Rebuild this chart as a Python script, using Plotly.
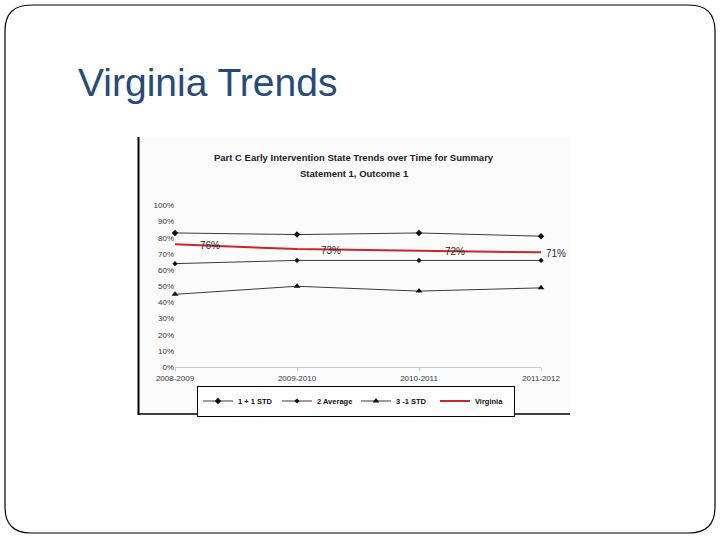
import plotly.graph_objects as go

categories = ["2008-2009", "2009-2010", "2010-2011", "2011-2012"]
plus_std = [0.83, 0.82, 0.83, 0.81]
average = [0.64, 0.66, 0.66, 0.66]
minus_std = [0.45, 0.50, 0.47, 0.49]
virginia = [0.76, 0.73, 0.72, 0.71]
series_names = ["1 + 1 STD", "2 Average", "3 -1 STD", "Virginia"]
label_shift = [35, 34, 36, 15]

W, H = 720, 540
def px(x):
    return x / W
def py(y):
    return 1 - y / H

fig = go.Figure()

fig.add_trace(go.Scatter(x=categories, y=plus_std, name=series_names[0], mode="lines+markers",
                         line=dict(color="#3a3a3a", width=1),
                         marker=dict(symbol="diamond", size=5, color="#111111"), cliponaxis=False))
fig.add_trace(go.Scatter(x=categories, y=average, name=series_names[1], mode="lines+markers",
                         line=dict(color="#3a3a3a", width=1),
                         marker=dict(symbol="diamond", size=4, color="#111111"), cliponaxis=False))
fig.add_trace(go.Scatter(x=categories, y=minus_std, name=series_names[2], mode="lines+markers",
                         line=dict(color="#3a3a3a", width=1),
                         marker=dict(symbol="triangle-up", size=6, color="#111111"), cliponaxis=False))
fig.add_trace(go.Scatter(x=categories, y=virginia, name=series_names[3], mode="lines",
                         line=dict(color="#c8262c", width=2), cliponaxis=False))

for c, v, s in zip(categories, virginia, label_shift):
    fig.add_annotation(x=c, y=v, xref="x", yref="y", text=f"{v*100:.0f}%", showarrow=False,
                       xshift=s, yshift=-1,
                       font=dict(family="Liberation Sans", size=10, color="#2a2a2a"))

shapes = []
r = 26
x0, y0, x1, y1 = 5, 5, 715, 533
pts = lambda a, b: f"{px(a):.5f},{py(b):.5f}"
path = (f"M {pts(x0+r, y0)} L {pts(x1-r, y0)} Q {pts(x1, y0)} {pts(x1, y0+r)} "
        f"L {pts(x1, y1-r)} Q {pts(x1, y1)} {pts(x1-r, y1)} L {pts(x0+r, y1)} "
        f"Q {pts(x0, y1)} {pts(x0, y1-r)} L {pts(x0, y0+r)} Q {pts(x0, y0)} {pts(x0+r, y0)} Z")
shapes.append(dict(type="path", path=path, xref="paper", yref="paper",
                   line=dict(color="#000000", width=1.2), fillcolor="rgba(0,0,0,0)", layer="below"))
shapes.append(dict(type="rect", x0=px(138), y0=py(137), x1=px(570), y1=py(414),
                   xref="paper", yref="paper",
                   line=dict(width=0), fillcolor="#fbfbfb", layer="below"))
shapes.append(dict(type="line", x0=px(138.5), y0=py(137), x1=px(138.5), y1=py(415),
                   xref="paper", yref="paper",
                   line=dict(color="#000000", width=2), layer="below"))
shapes.append(dict(type="line", x0=px(138), y0=py(414), x1=px(570), y1=py(414),
                   xref="paper", yref="paper",
                   line=dict(color="#000000", width=1.5), layer="below"))

fig.add_annotation(x=px(76), y=py(82), xref="paper", yref="paper", xanchor="left", yanchor="middle",
                   text="Virginia Trends", showarrow=False,
                   font=dict(family="Liberation Sans", size=39, color="#264a7a"))
fig.add_annotation(x=px(354), y=py(157), xref="paper", yref="paper", xanchor="center", yanchor="middle",
                   text="<b>Part C Early Intervention State Trends over Time for Summary</b>",
                   showarrow=False, font=dict(family="Liberation Sans", size=9.5, color="#222222"))
fig.add_annotation(x=px(354), y=py(173), xref="paper", yref="paper", xanchor="center", yanchor="middle",
                   text="<b>Statement 1, Outcome 1</b>",
                   showarrow=False, font=dict(family="Liberation Sans", size=9.5, color="#222222"))

fig.update_layout(
    width=W, height=H, margin=dict(l=0, r=0, t=0, b=0, autoexpand=False),
    paper_bgcolor="white", plot_bgcolor="rgba(0,0,0,0)",
    shapes=shapes,
    xaxis=dict(domain=[px(175), px(541)], range=[0, 3], type="category", showgrid=False,
               showline=True, linecolor="#c8c8c8", linewidth=1, ticks="outside", ticklen=3,
               tickcolor="#c8c8c8", zeroline=False,
               tickfont=dict(family="Liberation Sans", size=8, color="#333333")),
    yaxis=dict(domain=[py(367), py(205.5)], range=[0, 1], tickformat=".0%", dtick=0.1,
               showgrid=False, showline=False, zeroline=False, ticks="",
               tickfont=dict(family="Liberation Sans", size=8, color="#333333")),
    legend=dict(orientation="h", x=px(356), xanchor="center", y=py(401), yanchor="middle",
                bordercolor="#000000", borderwidth=1, bgcolor="white",
                font=dict(family="Liberation Sans", size=7.5, color="#111111", weight="bold"),
                itemwidth=30, entrywidth=34, entrywidthmode="pixels", tracegroupgap=0),
    showlegend=True,
)

fig.write_html("out.html", config={"displayModeBar": False},
               post_script="document.body.style.margin='0';document.body.style.padding='0';")
